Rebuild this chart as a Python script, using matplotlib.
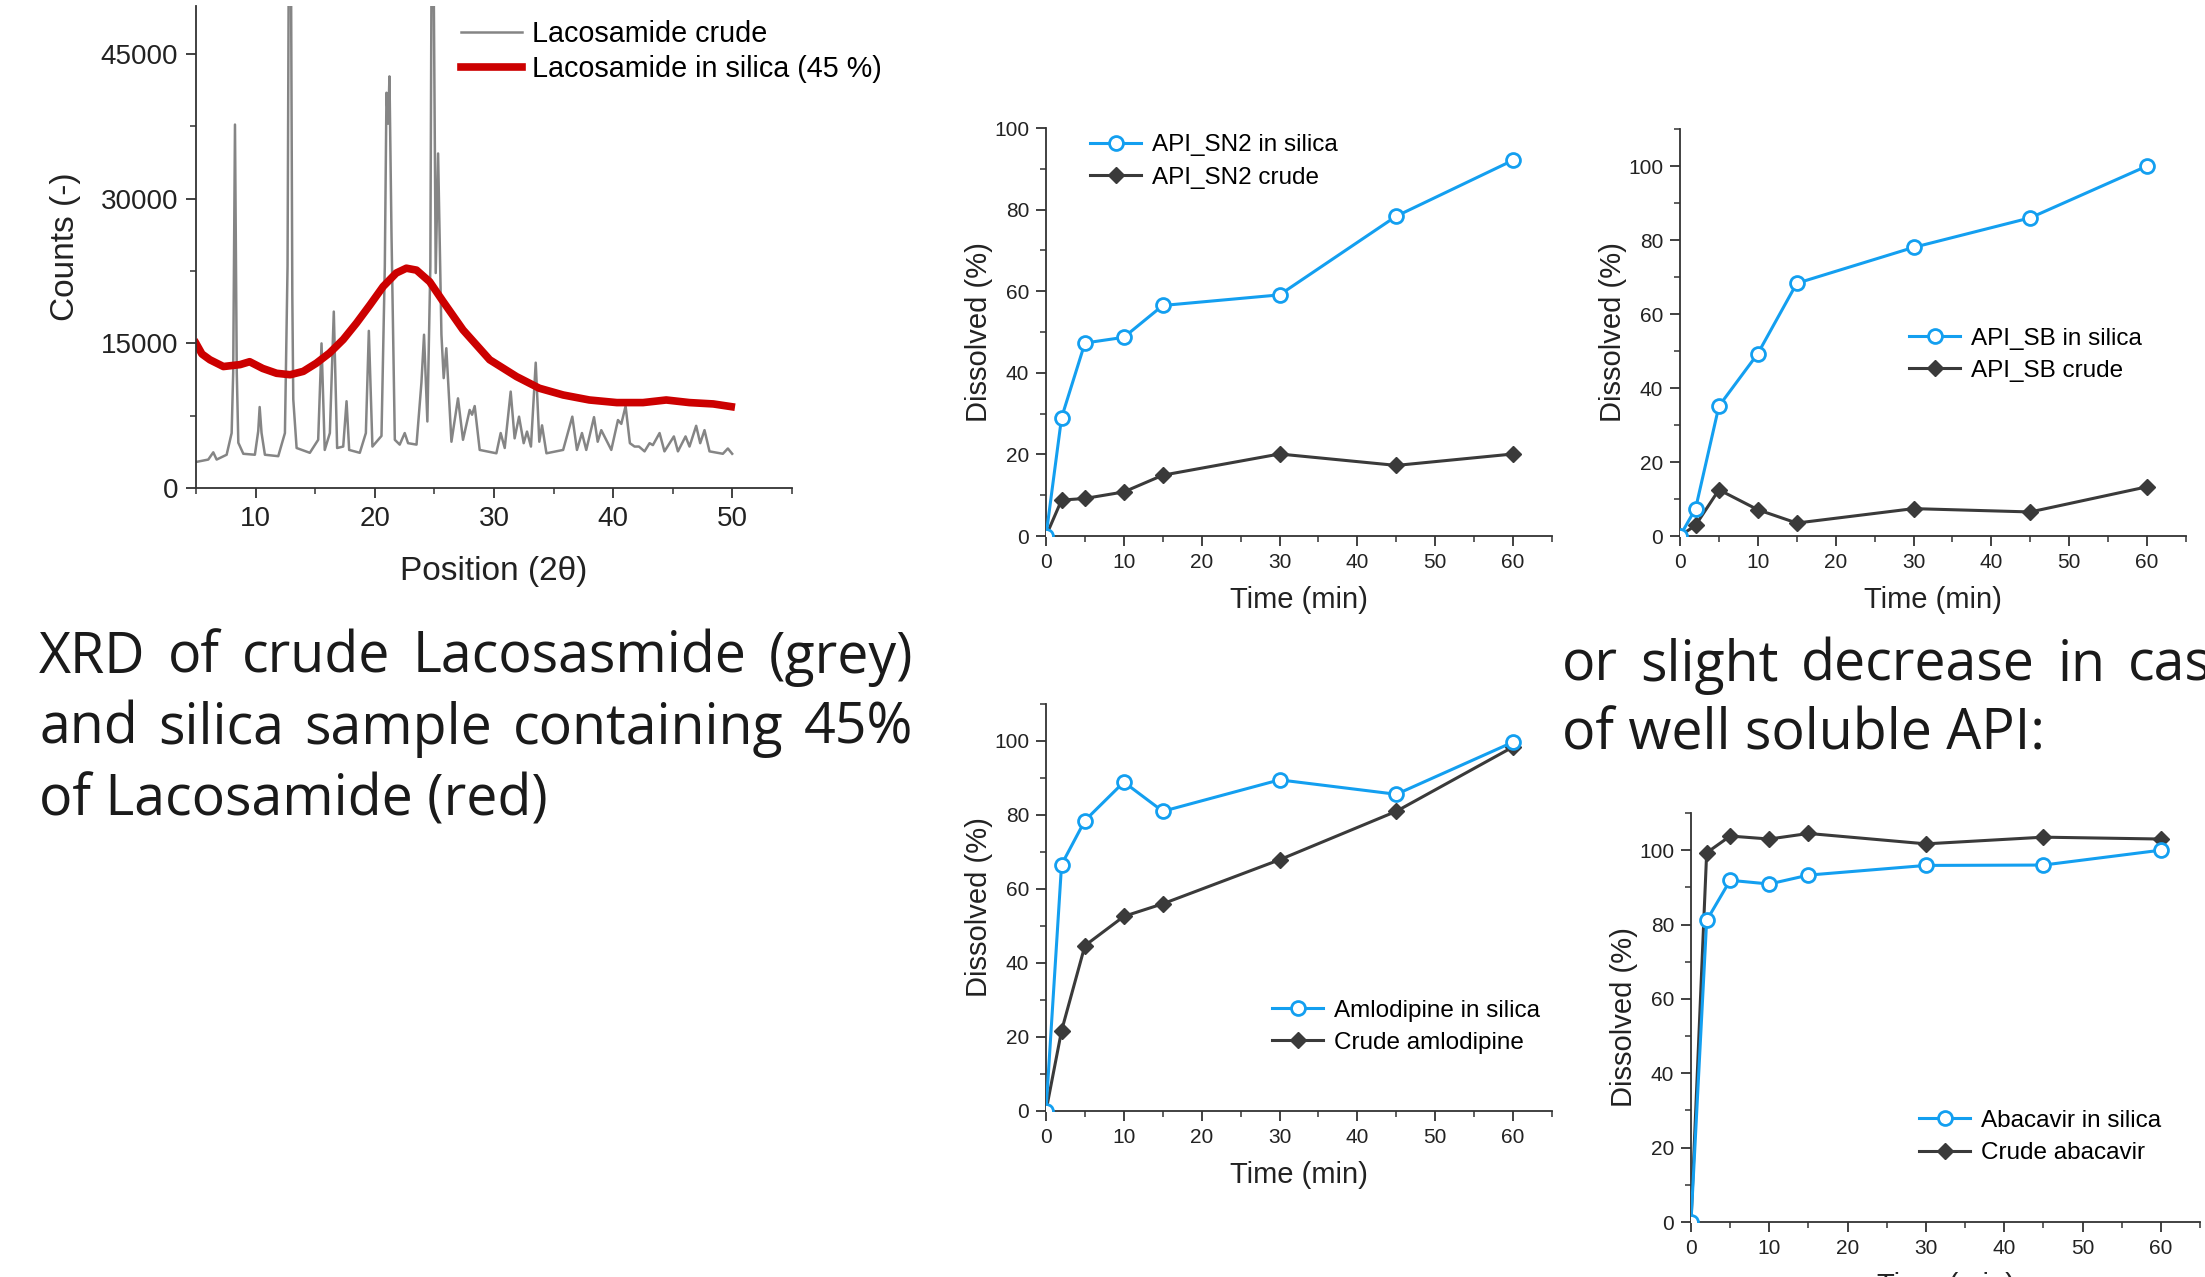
import matplotlib
matplotlib.use('Agg')
import matplotlib.pyplot as plt
from matplotlib.ticker import MultipleLocator

# ---------------- data ----------------
# XRD, crude Lacosamide (traced vertices: 2theta, counts)
xrd_crude_x = [5.0, 6.03, 6.45, 6.73, 7.57, 7.99, 8.12, 8.27, 8.42, 8.55, 8.97, 9.94, 10.22, 10.34, 10.5,
               10.78, 11.9, 12.46, 12.68, 12.8, 12.95, 13.08, 13.16, 13.44, 14.55, 15.25, 15.53, 15.8,
               16.23, 16.56, 16.84, 17.35, 17.63, 17.85, 18.74, 19.25, 19.5, 19.8, 20.56, 20.84, 20.98,
               21.12, 21.23, 21.4, 21.68, 22.09, 22.51, 22.79, 23.5, 23.91, 24.13, 24.41, 24.66, 24.78,
               24.9, 25.11, 25.31, 25.59, 25.78, 26.0, 26.43, 26.98, 27.4, 27.96, 28.16, 28.38, 28.8,
               30.2, 30.56, 30.9, 31.4, 31.73, 32.1, 32.49, 32.77, 33.1, 33.5, 33.8, 34.03, 34.4, 35.8,
               36.57, 36.96, 37.38, 37.74, 38.39, 38.7, 39.0, 39.84, 40.4, 40.68, 41.04, 41.4, 41.79,
               42.16, 42.63, 43.05, 43.33, 43.89, 44.3, 45.09, 45.43, 46.07, 46.4, 46.96, 47.3, 47.66,
               48.08, 49.2, 49.62, 49.98]
xrd_crude_y = [2700, 2950, 3700, 2950, 3450, 5700, 12000, 37700, 12000, 4700, 3550, 3450, 5900, 8400, 5700,
               3450, 3300, 5700, 23000, 60000, 60000, 20000, 9200, 4150, 3650, 5000, 15000, 3950,
               5700, 18300, 4150, 4300, 9000, 3950, 3650, 5700, 16300, 4300, 5400, 23000, 41000,
               37800, 42700, 26400, 5000, 4500, 5700, 4650, 4500, 10900, 15900, 6900, 23000, 60000,
               60000, 22300, 34700, 15900, 11400, 14500, 4800, 9300, 5000, 8100, 7600, 8500, 3950,
               3600, 5700, 4150, 10000, 5150, 7400, 4650, 5850, 4300, 13000, 4800, 6500, 3600, 3950,
               7400, 3950, 5700, 3950, 7350, 4800, 6000, 3950, 7050, 6650, 8500, 4650, 4300,
               4300, 3800, 4650, 4450, 5700, 3800, 5350, 3800, 5350, 4300, 6450, 4650, 6000,
               3800, 3550, 4100, 3550]

# XRD, Lacosamide in silica (45 %)
xrd_silica_x = [5.0, 5.5, 6.17, 7.3, 8.7, 9.5, 10.6, 11.76, 12.9, 14.0, 15.1, 16.2, 17.35, 18.46, 19.6,
                20.7, 21.8, 22.65, 23.5, 24.6, 25.7, 27.4, 29.64, 31.9, 33.8, 35.8, 38.0, 40.3, 42.5,
                44.45, 46.4, 48.4, 49.9]
xrd_silica_y = [15000, 13900, 13300, 12600, 12800, 13100, 12400, 11900, 11750, 12100, 12950, 14000, 15400,
                17100, 19000, 20900, 22300, 22800, 22600, 21400, 19400, 16400, 13300, 11550, 10350,
                9650, 9130, 8860, 8860, 9130, 8860, 8720, 8440]

# Dissolution profiles
time_min = [0, 2, 5, 10, 15, 30, 45, 60]
sn2_silica = [0, 29.0, 47.3, 48.7, 56.5, 59.1, 78.4, 92.1]
sn2_crude = [0, 8.8, 9.2, 10.8, 14.9, 20.1, 17.3, 20.1]
sb_silica = [0, 7.4, 35.1, 49.3, 68.3, 78.0, 86.0, 100.0]
sb_crude = [0, 2.9, 12.5, 7.1, 3.5, 7.4, 6.5, 13.3]
aml_silica = [0, 66.6, 78.5, 88.9, 81.0, 89.5, 85.6, 99.7]
aml_crude = [0, 21.7, 44.7, 52.6, 56.0, 67.9, 81.0, 98.4]
aba_silica = [0, 81.1, 91.9, 90.9, 93.3, 95.9, 96.0, 100.0]
aba_crude = [0, 99.3, 103.8, 103.0, 104.5, 101.7, 103.5, 103.0]

left_lines = ["XRD of crude Lacosasmide (grey)",
              "and silica sample containing 45%",
              "of Lacosamide (red)"]
right_lines = ["or slight decrease in case",
               "of well soluble API:"]

# ---------------- style ----------------
plt.rcParams['font.family'] = ['Liberation Sans', 'DejaVu Sans']
BLUE = '#139ff0'
DARK = '#3a3a3a'
RED = '#cc0000'
GREY = '#858585'
AX = '#333333'

W, H = 2205, 1277
fig = plt.figure(figsize=(W / 100, H / 100), dpi=100)


def frac(l, t, r, b):
    return [l / W, 1 - b / H, (r - l) / W, (b - t) / H]


def base_style(ax, tick_size):
    for s in ['top', 'right']:
        ax.spines[s].set_visible(False)
    for s in ['left', 'bottom']:
        ax.spines[s].set_color(AX)
        ax.spines[s].set_linewidth(1.3)
    ax.tick_params(which='major', direction='out', length=7, width=1.3, colors=AX,
                   labelsize=tick_size, labelcolor='#222222')
    ax.tick_params(which='minor', direction='out', length=4, width=1.1, colors=AX)


# ---------- XRD ----------
ax0 = fig.add_axes(frac(196, 6, 792, 488))
ax0.plot(xrd_crude_x, xrd_crude_y, color=GREY, lw=1.8, label='Lacosamide crude')
ax0.plot(xrd_silica_x, xrd_silica_y, color=RED, lw=5.5, label='Lacosamide in silica (45 %)')
ax0.set_xlim(5, 55)
ax0.set_ylim(0, 50000)
ax0.xaxis.set_major_locator(MultipleLocator(10))
ax0.xaxis.set_minor_locator(MultipleLocator(5))
ax0.yaxis.set_major_locator(MultipleLocator(15000))
ax0.yaxis.set_minor_locator(MultipleLocator(7500))
base_style(ax0, 20)
ax0.tick_params(which='major', pad=6)
ax0.set_xlabel('Position (2θ)', fontsize=24, labelpad=17, color='#222222')
ax0.set_ylabel('Counts (-)', fontsize=24, labelpad=14, color='#222222')
ax0.legend(loc='center left', bbox_to_anchor=(0.445, 0.905), frameon=False, fontsize=20.7,
           handlelength=2.1, handletextpad=0.35, labelspacing=0.25, borderpad=0, borderaxespad=0)

# ---------- dissolution ----------
diss = [
    (frac(1046, 128, 1552, 536), sn2_silica, sn2_crude, 'API_SN2 in silica', 'API_SN2 crude', 100, (0.087, 0.918)),
    (frac(1680, 129, 2186, 536), sb_silica, sb_crude, 'API_SB in silica', 'API_SB crude', 110, (0.453, 0.445)),
    (frac(1046, 704, 1552, 1111), aml_silica, aml_crude, 'Amlodipine in silica', 'Crude amlodipine', 110, (0.447, 0.207)),
    (frac(1691, 813, 2200, 1222), aba_silica, aba_crude, 'Abacavir in silica', 'Crude abacavir', 110, (0.448, 0.208)),
]
for rect, ys, yc, ls, lc, ymax, lpos in diss:
    ax = fig.add_axes(rect)
    ax.plot(time_min, ys, color=BLUE, lw=2.2, marker='o', ms=10, mfc='white', mec=BLUE, mew=2, label=ls,
            zorder=3)
    ax.plot(time_min, yc, color=DARK, lw=2.2, marker='D', ms=8, mfc=DARK, mec=DARK, label=lc, zorder=2)
    ax.set_xlim(0, 65)
    ax.set_ylim(0, ymax)
    ax.xaxis.set_major_locator(MultipleLocator(10))
    ax.xaxis.set_minor_locator(MultipleLocator(5))
    ax.yaxis.set_major_locator(MultipleLocator(20))
    ax.yaxis.set_minor_locator(MultipleLocator(10))
    base_style(ax, 15)
    ax.tick_params(which='major', pad=5)
    ax.set_xlabel('Time (min)', fontsize=21, labelpad=10, color='#222222')
    ax.set_ylabel('Dissolved (%)', fontsize=21, labelpad=1, color='#222222')
    ax.legend(loc='center left', bbox_to_anchor=lpos, frameon=False, fontsize=17.5,
              handlelength=2.1, handletextpad=0.45, labelspacing=0.42, borderpad=0, borderaxespad=0)

# ---------- body text ----------
TXT = dict(family=['Open Sans', 'DejaVu Sans'], fontsize=40, color='#1a1a1a', va='baseline', ha='left')
renderer = fig.canvas.get_renderer()


def place_words(line, x0, ybase, x1=None, extra=None):
    words = line.split(' ')
    ts = [fig.text(0, 1 - ybase / H, w, **TXT) for w in words]
    ws = [t.get_window_extent(renderer).width for t in ts]
    if x1 is not None:
        gap = ((x1 - x0) - sum(ws)) / (len(words) - 1)
    else:
        sp = fig.text(0, 0, 'a a', **TXT).get_window_extent(renderer).width - \
             fig.text(0, 0, 'aa', **TXT).get_window_extent(renderer).width
        gap = sp + extra
    x = x0
    for t, w in zip(ts, ws):
        t.set_x(x / W)
        x += w + gap
    for t in fig.texts[:]:
        if t.get_text() in ('a a', 'aa'):
            t.remove()


place_words(left_lines[0], 39, 673, x1=913)
place_words(left_lines[1], 39, 744, x1=913)
fig.text(39 / W, 1 - 815 / H, left_lines[2], **TXT)
place_words(right_lines[0], 1562, 681, extra=8)
fig.text(1562 / W, 1 - 750 / H, right_lines[1], **TXT)

fig.savefig('out.png', dpi=100, facecolor='white')
